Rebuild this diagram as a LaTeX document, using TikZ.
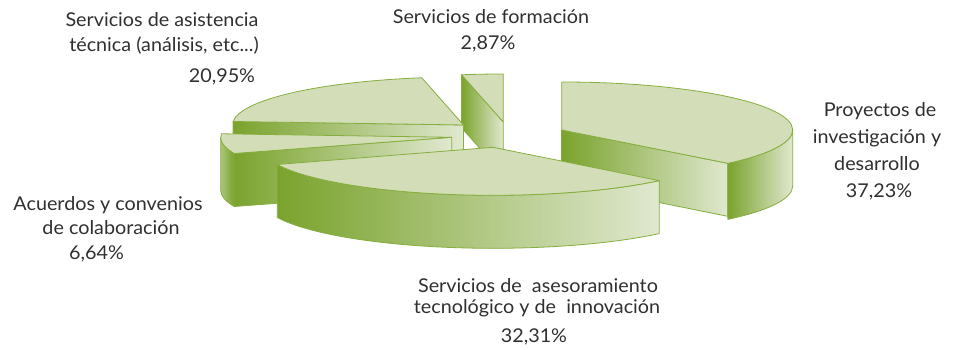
\documentclass[tikz,border=0pt]{standalone}
\usepackage{fontspec}
\setmainfont{Lato}[FakeStretch=1.04]
\definecolor{topc}{RGB}{211,222,184}
\definecolor{edgec}{RGB}{134,174,62}
\definecolor{darkc}{RGB}{122,163,45}
\definecolor{midc}{RGB}{170,198,120}
\definecolor{lightc}{RGB}{224,232,207}
\definecolor{txt}{RGB}{48,48,48}
\begin{document}
\begin{tikzpicture}[x=1pt,y=1pt,
  topface/.style={fill=topc,draw=edgec,line width=0.8pt,line join=round},
  sideface/.style={left color=darkc,right color=lightc,draw=edgec,line width=0.8pt,line join=round},
  sidefaceinv/.style={left color=midc,right color=darkc,draw=edgec,line width=0.8pt,line join=round},
  lbl/.style={font=\fontsize{19}{22}\selectfont,text=txt,inner sep=0pt,anchor=base},
  er/.style={x radius=231pt,y radius=48pt}]
\fill[white] (0,0) rectangle (954,350);
\useasboundingbox (0,0) rectangle (954,350);
% Formacion
\begin{scope}[shift={(503.3,228)}]
  \path[sideface] (0,0) -- (100.4:231pt and 48pt) -- ++(0,-53) -- (0,-53) -- cycle;
  \path[topface] (0,0) -- (90:231pt and 48pt) arc[start angle=90,end angle=100.4,er] -- cycle;
\end{scope}
% Proyectos
\begin{scope}[shift={(561.7,220)}]
  \path[sideface] (0,0) -- (-44:231pt and 48pt) -- ++(0,-53) -- (0,-53) -- cycle;
  \path[sideface] (-44:231pt and 48pt) arc[start angle=-44,end angle=0,er] -- ++(0,-56) arc[start angle=0,end angle=-44,er] -- cycle;
  \path[topface] (0,0) -- (-44:231pt and 48pt) arc[start angle=-44,end angle=90,er] -- cycle;
\end{scope}
% Asistencia
\begin{scope}[shift={(463.5,225)}]
  \path[sideface] (0,0) -- (175.8:231pt and 48pt) -- ++(0,-53) -- (0,-53) -- cycle;
  \path[topface] (0,0) -- (100.4:231pt and 48pt) arc[start angle=100.4,end angle=175.8,er] -- cycle;
\end{scope}
% Acuerdos
\begin{scope}[shift={(451.7,212.7)}]
  \path[sidefaceinv] (180:231pt and 48pt) arc[start angle=180,end angle=199.7,er] -- ++(0,-53) arc[start angle=199.7,end angle=180,er] -- cycle;
  \path[sideface] (0,0) -- (199.7:231pt and 48pt) -- ++(0,-53) -- (0,-53) -- cycle;
  \path[topface] (0,0) -- (175.8:231pt and 48pt) arc[start angle=175.8,end angle=199.7,er] -- cycle;
\end{scope}
% Asesoramiento (front)
\begin{scope}[shift={(493,202.7)}]
  \path[sideface] (201:231pt and 48pt) arc[start angle=201,end angle=316,er] -- ++(0,-53) arc[start angle=316,end angle=201,er] -- cycle;
  \path[topface] (0,0) -- (201:231pt and 48pt) arc[start angle=201,end angle=316,er] -- cycle;
\end{scope}
% Labels
\node[lbl] (asis1) at (162,323) {Servicios de asistencia};
\node[lbl] (asis2) at (164,298) {técnica (análisis, etc...)};
\node[lbl] (asisp) at (222,267) {20,95\%};
\node[lbl] (form1) at (491,326) {Servicios de formación};
\node[lbl] (formp) at (488,300) {2,87\%};
\node[lbl] (proy1) at (880,233) {Proyectos de};
\node[lbl] (proy2) at (877,206) {investigación y};
\node[lbl] (proy3) at (877,179) {desarrollo};
\node[lbl] (proyp) at (879,152) {37,23\%};
\node[lbl] (acu1) at (108,139) {Acuerdos y convenios};
\node[lbl] (acu2) at (111,115) {de colaboración};
\node[lbl] (acup) at (96.5,90) {6,64\%};
\node[lbl] (ase1) at (538,57) {Servicios de \ asesoramiento};
\node[lbl] (ase2) at (537,36) {tecnológico y de \ innovación};
\node[lbl] (asep) at (534,7) {32,31\%};
\end{tikzpicture}
\end{document}
